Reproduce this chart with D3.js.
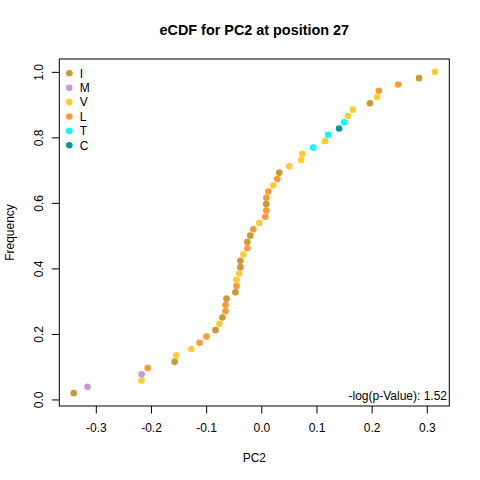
<!DOCTYPE html>
<html>
<head>
<meta charset="utf-8">
<script src="https://cdn.jsdelivr.net/npm/d3@7"></script>
<style>
  body { margin: 0; background: #fff; }
  svg text { font-family: "Liberation Sans", Arial, sans-serif; fill: #000; }
</style>
</head>
<body>
<svg id="chart" width="480" height="480"></svg>
<script>
// sorted PC2 values and the residue at each one
var pc2 = [-0.340, -0.315, -0.217, -0.217, -0.206, -0.157, -0.154, -0.127, -0.112, -0.0995,
  -0.083, -0.076, -0.0705, -0.065, -0.065, -0.063, -0.047, -0.045, -0.045, -0.040,
  -0.038, -0.038, -0.0325, -0.0253, -0.0253, -0.020, -0.0145, -0.0036, 0.0072, 0.009,
  0.009, 0.009, 0.0127, 0.0217, 0.029, 0.0326, 0.0506, 0.0723, 0.0741, 0.094,
  0.1157, 0.121, 0.141, 0.150, 0.157, 0.166, 0.197, 0.210, 0.213, 0.248,
  0.286, 0.3146];
var residue = ["I", "M", "V", "M", "L", "I", "V", "V", "L", "L",
  "I", "V", "I", "L", "L", "I", "I", "L", "V", "V",
  "I", "I", "V", "L", "I", "I", "L", "V", "L", "L",
  "I", "L", "L", "V", "L", "I", "V", "V", "V", "T",
  "V", "T", "C", "T", "V", "V", "I", "V", "L", "L",
  "I", "V"];
var categories = ["I", "M", "V", "L", "T", "C"];
var catColors = ["#CC9933", "#CC99CC", "#FFCC33", "#FF9933", "#00FFFF", "#009999"];
var xTicks = [-0.3, -0.2, -0.1, 0.0, 0.1, 0.2, 0.3];
var yTicks = [0.0, 0.2, 0.4, 0.6, 0.8, 1.0];
var pValueText = "-log(p-Value): 1.52";

var n = pc2.length;
var freq = pc2.map(function(d, i) { return (i + 1) / n; });

var svg = d3.select("#chart");
var boxLeft = 59.3, boxRight = 449.3, boxTop = 59, boxBottom = 406;

// R style 4% padding around the data range
function padded(ext) {
  var p = (ext[1] - ext[0]) * 0.04;
  return [ext[0] - p, ext[1] + p];
}
var x = d3.scaleLinear().domain(padded(d3.extent(pc2))).range([boxLeft, boxRight]);
var y = d3.scaleLinear().domain(padded(d3.extent(freq))).range([boxBottom, boxTop]);
var color = d3.scaleOrdinal().domain(categories).range(catColors);

// x axis
var gx = svg.append("g")
  .attr("transform", "translate(0," + boxBottom + ")")
  .call(d3.axisBottom(x).tickValues(xTicks).tickSize(7.5).tickPadding(10)
    .tickFormat(d3.format(".1f")));
gx.select(".domain").remove();
gx.selectAll("text").style("font-size", "12px").text(function(d) {
  return d3.format(".1f")(d).replace("\u2212", "-");
});

// y axis with rotated labels
var gy = svg.append("g")
  .attr("transform", "translate(" + boxLeft + ",0)")
  .call(d3.axisLeft(y).tickValues(yTicks).tickSize(7.5).tickFormat(d3.format(".1f")));
gy.select(".domain").remove();
gy.selectAll("text")
  .style("font-size", "12px")
  .attr("x", null).attr("dy", null)
  .attr("text-anchor", "middle")
  .attr("transform", "translate(-16.6,0) rotate(-90)");

svg.selectAll(".tick line").attr("stroke", "#000");

// box
svg.append("rect")
  .attr("x", boxLeft).attr("y", boxTop)
  .attr("width", boxRight - boxLeft).attr("height", boxBottom - boxTop)
  .attr("fill", "none").attr("stroke", "#000").attr("stroke-width", 1);

// points
svg.append("g").selectAll("circle")
  .data(pc2)
  .join("circle")
  .attr("cx", function(d) { return x(d); })
  .attr("cy", function(d, i) { return y(freq[i]); })
  .attr("r", 3.3)
  .attr("fill", function(d, i) { return color(residue[i]); });

// legend
var lg = svg.append("g").selectAll("g")
  .data(categories)
  .join("g")
  .attr("transform", function(d, i) { return "translate(69.3," + (73.3 + i * 14.4) + ")"; });
lg.append("circle").attr("r", 3.3).attr("fill", function(d) { return color(d); });
lg.append("text").attr("x", 10.5).attr("y", 4.3).style("font-size", "12px").text(function(d) { return d; });

// titles
svg.append("text")
  .attr("x", (boxLeft + boxRight) / 2).attr("y", 35)
  .attr("text-anchor", "middle")
  .style("font-size", "14.4px").style("font-weight", "bold")
  .text("eCDF for PC2 at position 27");
svg.append("text")
  .attr("x", (boxLeft + boxRight) / 2).attr("y", 462)
  .attr("text-anchor", "middle")
  .style("font-size", "12px")
  .text("PC2");
svg.append("text")
  .attr("transform", "translate(14," + ((boxTop + boxBottom) / 2) + ") rotate(-90)")
  .attr("text-anchor", "middle")
  .style("font-size", "12px")
  .text("Frequency");
svg.append("text")
  .attr("x", 447).attr("y", 400)
  .attr("text-anchor", "end")
  .style("font-size", "12px")
  .text(pValueText);
</script>
</body>
</html>
